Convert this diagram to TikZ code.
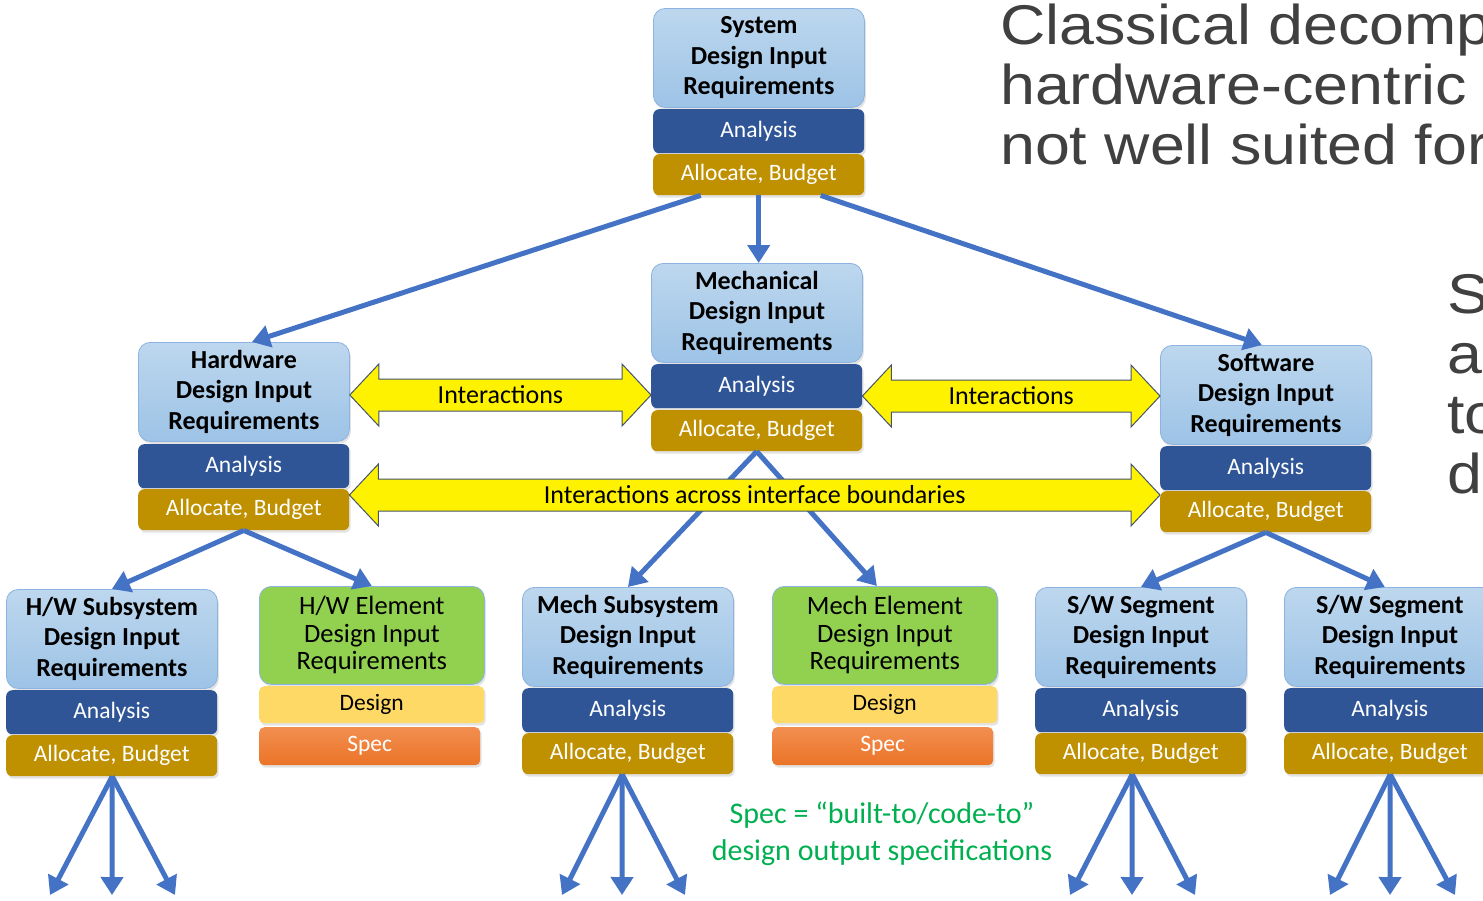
\documentclass[tikz,border=0pt]{standalone}
\usepackage{fontspec}
\setmainfont{Carlito}
\newfontfamily\headfont[FakeStretch=1.12]{Liberation Sans}
\usetikzlibrary{arrows.meta,calc,shadows}

\definecolor{reqtop}{HTML}{BDD7EE}
\definecolor{reqbot}{HTML}{9DC3E6}
\definecolor{reqline}{HTML}{8DB3E2}
\definecolor{anafill}{HTML}{2F5597}
\definecolor{allocfill}{HTML}{BF9000}
\definecolor{elemgreen}{HTML}{92D050}
\definecolor{designfill}{HTML}{FFD966}
\definecolor{spectop}{HTML}{F28E50}
\definecolor{specbot}{HTML}{EB7427}
\definecolor{flowblue}{HTML}{4472C4}
\definecolor{notegreen}{HTML}{00B050}
\definecolor{headgray}{HTML}{404040}
\definecolor{yline}{HTML}{44546A}

\tikzset{
  box/.style={anchor=north west, inner sep=0pt, align=center,
    drop shadow={opacity=0.22, shadow xshift=1.5pt, shadow yshift=-2.5pt}},
  reqbox/.style={box, rounded corners=12pt, minimum width=211pt, minimum height=99pt,
    top color=reqtop, bottom color=reqbot, draw=reqline, line width=0.8pt,
    font=\fontsize{26}{30.5}\selectfont\bfseries},
  anabox/.style={box, rounded corners=6pt, minimum width=211pt, minimum height=44pt,
    fill=anafill, text=white, font=\fontsize{23.5}{28}\selectfont},
  allocbox/.style={anabox, minimum height=41pt, fill=allocfill},
  elembox/.style={box, rounded corners=12pt, minimum width=225pt, minimum height=98pt,
    fill=elemgreen, draw=reqline, line width=0.8pt,
    font=\fontsize{26.5}{27.5}\selectfont},
  designbox/.style={box, rounded corners=5pt, minimum width=225pt, minimum height=37pt,
    fill=designfill, font=\fontsize{23.5}{28}\selectfont},
  specbox/.style={box, rounded corners=5pt, minimum width=221pt, minimum height=38pt,
    top color=spectop, bottom color=specbot, text=white, font=\fontsize{23.5}{28}\selectfont},
  flow/.style={draw=flowblue, line width=5pt, -{Triangle[width=22pt,length=18pt]}},
  yarrow/.style={fill=yellow, draw=yline, line width=1pt, line join=miter},
  itext/.style={inner sep=0pt, font=\fontsize{26}{30}\selectfont},
  headtext/.style={anchor=base west, inner sep=0pt, text=headgray,
    font=\headfont\fontsize{56}{60}\selectfont},
}

% yellow double-headed block arrow between two tip coordinates
\newcommand\interarrow[2]{%
  \draw[yarrow] let \p1=(#1), \p2=(#2) in
    (\x1,\y1) -- (\x1+29pt,\y1+31pt) -- (\x1+29pt,\y1+16pt) -- (\x2-29pt,\y2+16pt)
    -- (\x2-29pt,\y2+31pt) -- (\x2,\y2) -- (\x2-29pt,\y2-31pt) -- (\x2-29pt,\y2-16pt)
    -- (\x1+29pt,\y1-16pt) -- (\x1+29pt,\y1-31pt) -- cycle;}

\begin{document}
\begin{tikzpicture}[x=1pt,y=-1pt]
\useasboundingbox (0,0) rectangle (1483,900);
\clip (0,0) rectangle (1483,900);
\fill[white] (0,0) rectangle (1483,900);

% heading text
\node[headtext] (cl1) at (1000,44) {Classical decomp};
\node[headtext] (cl2) at (1000,104) {hardware-centric};
\node[headtext] (cl3) at (1000,164) {not well suited for};
\node[headtext] (sa1) at (1447,313) {S};
\node[headtext] (sa2) at (1447,373) {a};
\node[headtext] (sa3) at (1447,433) {to};
\node[headtext] (sa4) at (1447,493) {d};

% system level
\node[reqbox] (sysT) at (653,8) {System\\Design Input\\Requirements};
\node[anabox] (sysA) at (653,109) {Analysis};
\node[allocbox] (sysL) at (653,154) {Allocate, Budget};

% second level
\node[reqbox] (hwT) at (138,342) {Hardware\\Design Input\\Requirements};
\node[anabox] (hwA) at (138,444) {Analysis};
\node[allocbox] (hwL) at (138,489) {Allocate, Budget};

\node[reqbox] (mechT) at (651,263) {Mechanical\\Design Input\\Requirements};
\node[anabox] (mechA) at (651,364) {Analysis};
\node[allocbox] (mechL) at (651,410) {Allocate, Budget};

\node[reqbox] (swT) at (1160,345) {Software\\Design Input\\Requirements};
\node[anabox] (swA) at (1160,446) {Analysis};
\node[allocbox] (swL) at (1160,491) {Allocate, Budget};

% third level
\node[reqbox] (hsT) at (6,589) {H/W Subsystem\\Design Input\\Requirements};
\node[anabox] (hsA) at (6,690) {Analysis};
\node[allocbox] (hsL) at (6,735) {Allocate, Budget};

\node[elembox] (heT) at (259,586) {H/W Element\\Design Input\\Requirements};
\node[designbox] (heD) at (259,686) {Design};
\node[specbox] (heS) at (259,727) {Spec};

\node[reqbox] (msT) at (522,587) {Mech Subsystem\\Design Input\\Requirements};
\node[anabox] (msA) at (522,688) {Analysis};
\node[allocbox] (msL) at (522,733) {Allocate, Budget};

\node[elembox] (meT) at (772,586) {Mech Element\\Design Input\\Requirements};
\node[designbox] (meD) at (772,686) {Design};
\node[specbox] (meS) at (772,727) {Spec};

\node[reqbox] (s1T) at (1035,587) {S/W Segment\\Design Input\\Requirements};
\node[anabox] (s1A) at (1035,688) {Analysis};
\node[allocbox] (s1L) at (1035,733) {Allocate, Budget};

\node[reqbox] (s2T) at (1284,587) {S/W Segment\\Design Input\\Requirements};
\node[anabox] (s2A) at (1284,688) {Analysis};
\node[allocbox] (s2L) at (1284,733) {Allocate, Budget};

% decomposition arrows
\draw[flow] ([xshift=-58pt]sysL.south) -- ([xshift=8pt]hwT.north);
\draw[flow] (sysL.south) -- (sysL.south |- mechT.north);
\draw[flow] ([xshift=62pt]sysL.south) -- ([xshift=-4pt]swT.north);

\draw[flow] (hwL.south) -- (hsT.north);
\draw[flow] (hwL.south) -- (heT.north);
\draw[flow] (mechL.south) -- (msT.north);
\draw[flow] (mechL.south) -- ([xshift=-8pt]meT.north);
\draw[flow] (swL.south) -- (s1T.north);
\draw[flow] (swL.south) -- ([xshift=-5pt]s2T.north);

% further decomposition below the lowest level
\coordinate (hsO) at ([xshift=0.5pt]hsL.south);
\coordinate (msO) at ([xshift=-5.5pt]msL.south);
\coordinate (s1O) at ([xshift=-8.5pt]s1L.south);
\coordinate (s2O) at ([xshift=0.5pt]s2L.south);
\foreach \o/\a/\b/\c in {hsO/50/112/175, msO/562/622/685, s1O/1070/1132/1195, s2O/1330/1390/1455}{
  \coordinate (\o-l) at (\a,895);
  \coordinate (\o-m) at (\b,895);
  \coordinate (\o-r) at (\c,895);
  \draw[flow] (\o) -- (\o-l);
  \draw[flow] (\o) -- (\o-m);
  \draw[flow] (\o) -- (\o-r);
}

% interaction arrows
\coordinate (yA) at (0,395);
\coordinate (yB) at (0,396);
\coordinate (yC) at (0,495);
\coordinate (i1L) at (hwT.east |- yA);
\coordinate (i1R) at (mechA.west |- yA);
\coordinate (i2L) at (mechA.east |- yB);
\coordinate (i2R) at (swT.west |- yB);
\coordinate (i3L) at (hwL.east |- yC);
\coordinate (i3R) at (swA.west |- yC);
\interarrow{i1L}{i1R}
\interarrow{i2L}{i2R}
\interarrow{i3L}{i3R}
\node[itext] (it1) at ($(i1L)!0.5!(i1R)$) {Interactions};
\node[itext] (it2) at ($(i2L)!0.5!(i2R)$) {Interactions};
\node[itext] (it3) at ($(i3L)!0.5!(i3R)$) {Interactions across interface boundaries};

% note on specifications
\node[align=center, inner sep=0pt, text=notegreen, font=\fontsize{30}{37}\selectfont]
  (note) at (882,834) {Spec = “built-to/code-to”\\design output specifications};
\end{tikzpicture}
\end{document}
